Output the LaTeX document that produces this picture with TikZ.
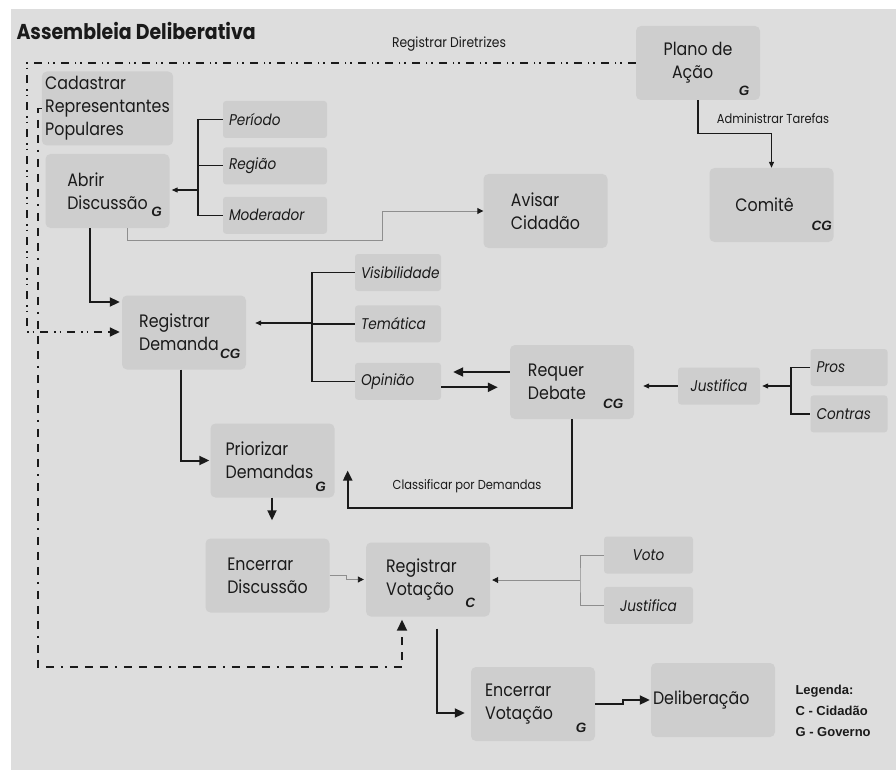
\documentclass[tikz,border=0pt]{standalone}
\usepackage{fontspec}
\setmainfont{Poppins}[FakeStretch=0.88]
\newfontfamily\rolefont{Liberation Sans}
\usetikzlibrary{positioning,calc,arrows.meta}
\definecolor{panel}{HTML}{DDDDDD}
\definecolor{boxfill}{HTML}{CECECE}
\definecolor{ink}{HTML}{1A1A1A}
\definecolor{wire}{HTML}{8E8E8E}
\tikzset{
  proc/.style={fill=boxfill, rounded corners=5pt, minimum width=124pt, minimum height=74pt, inner ysep=2pt, align=left, text=ink, font=\fontsize{18}{23}\selectfont},
  attr/.style={fill=boxfill, rounded corners=3pt, minimum height=37pt, inner xsep=6pt, text width=#1, align=left, text=ink, font=\fontsize{15.5}{17}\selectfont\itshape},
  role/.style={text=ink, inner sep=0pt, font=\rolefont\bfseries\itshape\fontsize{13.5}{14}\selectfont},
  note/.style={text=ink, font=\fontsize{13}{14}\selectfont},
  tree/.style={draw=ink, line width=1.2pt},
  link/.style={tree, -{Triangle[length=6pt,width=5pt]}},
  flow/.style={draw=ink, line width=2pt, -{Triangle[length=10pt,width=9pt]}},
  faint/.style={draw=wire, line width=0.9pt},
  faintlink/.style={faint, -{Triangle[length=6pt,width=6pt,color=ink]}},
  diretriz/.style={draw=ink, line width=1.6pt, dash pattern=on 8pt off 6pt on 1.5pt off 4pt on 1.5pt off 6pt, -{Triangle[length=10pt,width=9pt]}},
  votacaolink/.style={draw=ink, line width=1.8pt, dash pattern=on 8pt off 7pt on 8pt off 7pt on 8pt off 7pt on 2pt off 7pt, -{Triangle[length=11pt,width=10pt]}}
}
\begin{document}
\begin{tikzpicture}[x=1pt,y=-1pt]
  \useasboundingbox (0,0) rectangle (896,770);
  \fill[panel] (11,9) rectangle (896,770);
  \node[anchor=base west, text=ink, font=\fontsize{21.5}{23}\selectfont\bfseries] (titulo) at (13,40) {Assembleia Deliberativa};

  \node[proc] (cadastrar) at (107.5,108.5) {Cadastrar\\Representantes\\Populares};
  \node[proc] (abrir) at (107.5,191) {Abrir\\Discussão};
  \node[attr=92pt] (periodo) at (275,119.5) {Período};
  \node[attr=92pt, below=9pt of periodo] (regiao) {Região};
  \node[attr=92pt, below=12pt of regiao] (moderador) {Moderador};
  \node[proc] (avisar) at (545.5,211) {Avisar\\Cidadão};
  \node[proc] (plano) at (698,63) {Plano de\\\ \ Ação};
  \node[proc] (comite) at (771.5,205) {Comitê\hspace*{14pt}};
  \node[proc] (demanda) at (184,332.5) {Registrar\\Demanda\hspace*{10pt}};
  \node[attr=74pt] (visib) at (398,272.5) {Visibilidade};
  \node[attr=74pt, below=14pt of visib] (tematica) {Temática};
  \node[attr=74pt, below=20pt of tematica] (opiniao) {Opinião};
  \node[proc] (debate) at (572,382) {Requer\\Debate\hspace*{30pt}};
  \node[attr=70pt, align=center] (justifica) at (719,386) {Justifica};
  \node[attr=65pt] (pros) at (849,367.5) {Pros};
  \node[attr=65pt, below=9pt of pros] (contras) {Contras};
  \node[proc] (priorizar) at (272.5,460.5) {Priorizar\\Demandas\hspace*{6pt}};
  \node[proc] (encdisc) at (267.5,575.5) {Encerrar\\Discussão};
  \node[proc] (votacao) at (428,579.5) {Registrar\\Votação\hspace*{16pt}};
  \node[attr=77pt, align=center] (voto) at (648.5,555) {Voto};
  \node[attr=77pt, align=center, below=13pt of voto] (justvoto) {Justifica};
  \node[proc] (encvot) at (533,704) {Encerrar\\Votação\hspace*{28pt}};
  \node[proc, text width=120pt, inner xsep=2pt] (delib) at (713,700) {Deliberação};

  \node[role] (abrirR) at ($(abrir.south east)+(-13,-16)$) {G};
  \node[role] (planoR) at ($(plano.south east)+(-16,-9)$) {G};
  \node[role] (comiteR) at ($(comite.south east)+(-12,-16)$) {CG};
  \node[role] (demandaR) at ($(demanda.south east)+(-16,-16)$) {CG};
  \node[role] (debateR) at ($(debate.south east)+(-21,-15)$) {CG};
  \node[role] (priorizarR) at ($(priorizar.south east)+(-14,-11)$) {G};
  \node[role] (votacaoR) at ($(votacao.south east)+(-20,-14)$) {C};
  \node[role] (encvotR) at ($(encvot.south east)+(-14,-13)$) {G};

  \node[note, anchor=base, font=\fontsize{14}{15}\selectfont] (diretrizes) at (449,48) {Registrar Diretrizes};
  \node[note, anchor=base] (tarefas) at (773,124) {Administrar Tarefas};
  \node[note, anchor=base] (classificar) at (467,489) {Classificar por Demandas};
  \node[anchor=north west, align=left, text=ink, font=\rolefont\bfseries\fontsize{13}{21}\selectfont] (legenda) at (792,682) {Legenda:\\C - Cidadão\\G - Governo};

  \coordinate (t1) at (198,190);
  \coordinate (t2) at (312,323);
  \coordinate (t3) at (791,386);
  \coordinate (t4) at (580,580);

  \draw[tree] (periodo.west) -| (t1) |- (moderador.west);
  \draw[tree] (regiao.west) -- (regiao.west -| t1);
  \draw[link, shorten >=2pt] (t1) -- (t1 -| abrir.east);
  \draw[faintlink] ([xshift=20pt]abrir.south) |- (382,240) |- (avisar.west);
  \draw[link] (plano.south) |- ($(comite.north)+(0,-34)$) -- (comite.north);
  \draw[diretriz, shorten >=2pt] (plano.west) -| (27,332) -- (27,332 -| demanda.west);
  \draw[flow, shorten >=2pt] ([xshift=-17.5pt]abrir.south) |- ([yshift=30.5pt]demanda.west);
  \draw[tree] (visib.west) -| (t2) |- (opiniao.west);
  \draw[tree] (tematica.west) -- (tematica.west -| t2);
  \draw[link, shorten >=9pt] (t2) -- (t2 -| demanda.east);
  \draw[flow, shorten >=12pt] ([yshift=10pt]debate.west) -- ([yshift=10pt]debate.west -| opiniao.east);
  \draw[flow, shorten >=12pt] ([yshift=-6pt]opiniao.east) -- ([yshift=-6pt]opiniao.east -| debate.west);
  \draw[link, shorten >=9pt] (justifica.west) -- (justifica.west -| debate.east);
  \draw[tree] (pros.west) -| (t3) |- (contras.west);
  \draw[link, shorten >=2pt] (t3) -- (justifica.east);
  \draw[flow, shorten >=1pt] ([xshift=-3pt]demanda.south) |- (priorizar.west);
  \draw[flow] (debate.south) |- ($(priorizar.south east)+(13,10)$) -- ($(priorizar.east)+(13,10)$);
  \draw[flow, shorten >=18pt] ([xshift=-0.5pt]priorizar.south) -- ([xshift=-0.5pt]priorizar.south |- encdisc.north);
  \draw[faintlink, shorten >=2pt] (encdisc.east) -- ++(17,0) |- (votacao.west);
  \draw[faint] (voto.west) -| (t4) |- (justvoto.west);
  \draw[faintlink, shorten >=2pt] (t4) -- (t4 -| votacao.east);
  \draw[votacaolink, shorten >=3pt] (cadastrar.west) -| (38,667) -| ([xshift=-26pt]votacao.south);
  \draw[flow, shorten <=12pt, shorten >=6pt] ([xshift=9pt]votacao.south) |- ([yshift=-9pt]encvot.west);
  \draw[flow, shorten >=1pt] (encvot.east) -- ++(28,0) |- (delib.west);
\end{tikzpicture}
\end{document}
